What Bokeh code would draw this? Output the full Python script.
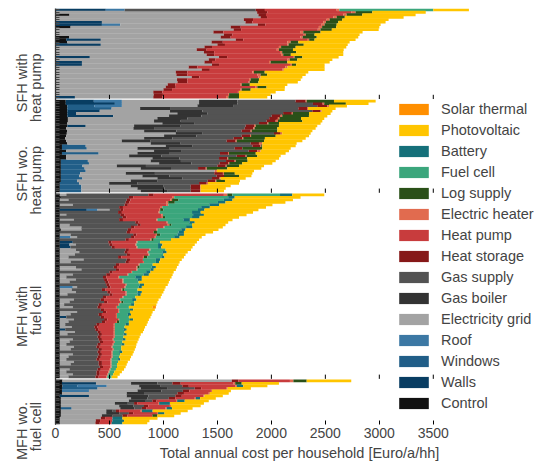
import math
from bokeh.plotting import figure
from bokeh.models import ColumnDataSource, Range1d, FixedTicker, Legend, LegendItem, LinearAxis
from bokeh.embed import file_html
from bokeh.resources import INLINE

COMPONENTS = ["Control", "Walls", "Windows", "Roof", "Electricity grid", "Gas boiler",
              "Gas supply", "Heat storage", "Heat pump", "Electric heater", "Log supply",
              "Fuel cell", "Battery", "Photovoltaic", "Solar thermal"]
COLORS = ["#111111", "#083d62", "#215e88", "#3c78a4", "#a3a3a3", "#333333",
          "#535353", "#861818", "#c83c3d", "#e16b4f", "#2a5018",
          "#3ba67c", "#15707a", "#ffc500", "#ff8f00"]
PANEL_LINE1 = ["SFH with", "SFH wo.", "MFH with", "MFH wo."]
PANEL_LINE2 = ["heat pump", "heat pump", "fuel cell", "fuel cell"]
XTICKS = [0, 500, 1000, 1500, 2000, 2500, 3000, 3500]

# ---- Panel 1: SFH with heat pump (36 households, sorted by total) ----
p1_control = [0,0,130,0,0,0,0,140,0,0,0,125,100,110,0,0,0,0,0,0,0,0,0,0,0,0,0,0,0,0,0,0,0,0,0,0]
p1_walls = [466,0,0,0,0,430,430,0,0,0,0,0,320,0,420,0,0,0,0,318,0,245,245,0,0,0,0,0,0,0,0,0,0,0,0,180]
p1_roof = [175,0,0,0,0,0,170,0,0,0,0,0,0,0,0,0,0,0,0,0,0,0,0,0,0,0,0,0,0,0,0,0,0,0,0,0]
p1_grid = [0,1868,1750,1900,1745,1330,1275,1483,1650,1463,1560,1405,1250,1336,1080,1380,1308,1375,
           1400,1197,1420,1135,1205,1234,1355,1114,1120,1262,1126,1130,1040,1021,1000,906,910,726]
p1_gas = [1214,0,0,0,0,0,0,0,0,0,0,0,0,0,0,0,0,0,0,0,0,0,0,0,0,0,0,0,0,0,0,0,0,0,0,0]
p1_storage = [85,95,70,60,85,65,70,93,70,92,80,93,70,104,70,70,92,95,70,75,60,70,65,81,75,108,102,71,96,92,70,93,80,84,85,84]
p1_heatpump = [665,777,716,615,682,655,521,724,710,711,660,647,590,598,578,620,650,610,620,610,670,528,665,815,
               670,602,648,547,571,568,600,736,635,700,603,590]
p1_heater = [25,40,31,30,28,25,27,30,25,30,20,20,20,30,12,20,20,20,20,15,20,15,10,20,15,15,30,20,15,10,15,20,10,10,10,22]
p1_log = [0,155,145,75,117,115,112,130,105,160,80,130,50,72,140,135,130,130,70,72,70,155,40,0,0,99,60,0,77,80,75,85,83,0,92,98]
p1_fuelcell = [870,0,0,0,0,0,0,0,0,0,0,0,0,0,0,0,0,0,0,0,0,0,0,0,0,0,0,0,0,0,0,0,0,0,0,0]
p1_pv = [330,495,494,545,429,438,407,400,434,389,417,385,380,475,407,469,470,436,486,336,325,392,263,343,
         378,404,358,387,387,365,348,170,315,340,293,262]

# ---- Panel 2: SFH wo. heat pump (37 households) ----
p2_control = [95,95,110,110,110,110,110,115,115,110,110,100,110,105,100,90,100,110,60,60,100,60,100,100,
              50,50,50,50,50,50,50,50,50,40,40,40,40]
p2_walls = [260,455,0,0,300,80,426,0,0,0,170,0,0,0,0,0,0,0,0,0,0,0,0,0,0,0,0,0,0,0,0,0,0,0,0,0,0]
p2_windows = [0,0,250,410,0,0,0,0,0,0,0,0,0,0,0,0,0,0,220,230,0,340,0,0,250,260,200,220,230,180,170,200,150,180,200,200,200]
p2_roof = [260,65,255,0,0,0,0,0,0,0,0,0,0,0,0,0,0,0,0,0,0,0,0,0,0,0,0,0,0,0,0,0,0,0,0,0,0]
p2_grid = [715,715,700,264,651,939,516,829,798,880,448,622,711,1009,906,731,514,772,741,469,813,359,582,798,
           582,650,318,520,1195,421,585,694,497,277,457,519,550]
p2_boiler = [355,355,330,277,300,280,300,278,247,300,432,191,300,250,300,262,268,278,250,300,250,300,300,250,
             280,300,270,280,0,270,250,230,250,260,300,250,250]
p2_gas = [540,700,780,1189,1018,700,651,758,796,595,602,840,604,660,419,567,704,648,553,601,627,465,697,367,
          418,260,662,251,0,550,438,276,463,573,256,244,213]
p2_storage = [93,90,93,80,77,80,83,80,84,78,77,80,83,62,77,80,83,77,76,71,80,74,83,77,80,80,77,71,0,80,68,70,70,71,86,86,86]
p2_heater = [9,15,16,10,10,10,15,15,21,10,16,12,10,14,10,10,10,31,6,0,30,9,8,8,10,10,8,9,20,10,0,10,10,12,6,6,6]
p2_log = [253,200,0,0,0,150,247,200,226,98,215,210,237,0,228,200,253,0,10,185,0,248,100,177,110,120,115,191,0,100,139,0,80,0,0,0,0]
p2_pv = [386,210,166,255,99,200,170,215,185,385,355,355,325,264,309,378,355,318,309,263,263,277,216,294,
         260,279,232,315,344,163,115,232,139,287,278,232,216]

# ---- Panel 3: MFH with fuel cell (74 households) ----
p3_control = [40,50,40,40,40,40,40,40,40,40,40,40,40,40,50,40,40,40,40,40,40,40,40,40,40,40,40,40,40,40,40,40,40,40,40,40,40,
              40,40,40,40,40,40,40,40,40,40,40,40,40,40,40,40,40,40,40,40,40,40,40,40,40,40,40,40,40,40,40,40,40,40,40,40,40]
p3_walls = [0,0,0,0,0,0,250,0,0,0,0,0,0,0,0,0,0,0,0,120,90,100,0,0,0,0,0,0,0,0,0,0,0,0,0,0,0,
            0,0,0,0,0,0,0,0,0,0,0,0,60,0,0,0,0,50,0,0,0,0,0,0,0,0,0,0,0,0,0,0,0,0,0,0,0]
p3_roof = [0,0,0,0,0,0,100,0,0,0,0,0,0,0,0,0,0,100,0,0,0,0,0,0,0,0,0,0,0,0,0,0,0,0,0,0,0,
           120,0,0,0,0,0,0,0,0,0,0,0,0,0,0,0,0,0,0,0,0,0,0,0,0,0,0,0,0,0,0,0,0,0,0,0,0]
p3_grid = [60,0,80,0,120,0,110,0,60,0,130,0,90,200,190,0,100,60,0,0,60,0,150,180,140,80,220,100,0,150,200,0,120,60,150,90,0,
           40,110,150,70,0,130,90,40,120,0,160,100,0,130,80,50,110,0,140,70,0,120,90,60,130,100,0,120,80,60,130,100,0,90,60,120,80]
p3_gas = [760,630,540,610,480,550,100,540,500,580,420,700,630,460,430,620,580,500,610,330,310,380,460,420,480,460,400,510,520,350,320,460,310,340,260,330,430,
          280,280,290,390,400,250,320,320,230,380,240,260,320,280,310,290,210,280,210,290,350,240,280,290,210,260,350,240,270,280,230,260,370,260,280,220,250]
p3_storage = [50,40,35,35,30,35,30,35,40,35,35,30,30,30,35,30,30,30,30,30,30,30,30,30,30,30,30,30,30,30,30,30,35,30,30,30,30,
              30,30,30,30,30,30,30,30,30,30,30,30,30,30,30,30,30,30,30,30,30,30,30,30,30,30,30,30,30,30,30,30,30,30,30,30,30]
p3_heatpump = [650,360,370,340,360,350,330,340,340,330,310,260,250,270,230,220,180,190,200,230,210,200,190,180,170,200,120,130,180,180,160,170,160,110,140,130,150,
               130,150,140,120,150,140,120,150,140,130,110,130,110,100,100,130,150,140,120,110,120,100,100,110,110,100,100,90,100,100,80,80,70,80,80,70,70]
p3_heater = [32,20,15,20,15,15,10,10,15,10,10,10,15,10,10,0,10,10,10,10,10,10,10,10,10,10,0,10,10,10,10,10,10,10,10,10,10,
             10,10,10,10,10,10,10,10,10,10,10,10,10,10,10,10,10,10,10,10,10,10,10,10,10,10,10,10,10,10,10,10,10,10,10,10,10]
p3_log = [46,0,60,60,0,0,30,0,0,20,0,0,20,0,0,30,30,0,20,0,0,0,0,0,0,30,0,0,0,20,0,0,0,0,0,0,0,
          0,20,0,0,0,0,20,0,0,0,0,0,0,0,20,0,0,0,0,0,0,0,0,0,0,0,0,0,0,0,0,0,0,0,0,0,0]
p3_fuelcell = [442,500,420,400,380,360,320,300,280,250,240,200,190,200,220,200,160,170,160,210,200,190,140,130,130,130,120,110,120,110,120,130,140,150,130,140,120,
               120,120,100,100,110,110,100,110,110,100,100,100,110,100,90,100,90,80,90,80,80,80,70,70,80,70,60,70,60,60,60,50,50,50,45,45,40]
p3_battery = [114,60,80,70,90,80,60,80,100,70,60,50,0,60,40,50,60,50,0,0,40,30,0,40,0,30,40,30,0,40,30,40,50,60,40,0,40,
              30,0,40,30,0,40,0,30,0,30,0,30,0,30,0,30,0,30,0,30,0,30,0,30,0,0,30,0,0,20,0,0,0,0,0,0,0]
p3_pv = [296,610,560,555,495,520,500,485,395,365,395,310,310,280,305,270,200,205,260,340,300,290,235,195,205,180,200,190,240,195,205,215,220,275,260,280,220,
         220,250,200,195,235,205,215,205,220,200,210,190,200,145,175,165,190,160,170,130,150,120,140,110,135,125,105,115,110,90,90,90,80,75,70,60,55]
p3_solar = [0,0,0,0,0,0,0,0,0,0,0,0,0,0,0,0,0,0,0,0,0,0,0,0,0,0,0,0,0,0,0,0,0,0,0,0,0,
            0,0,0,0,0,0,0,0,30,0,0,0,0,0,0,0,0,0,0,0,0,0,0,0,0,0,0,0,0,0,0,0,0,0,0,0,0]

# ---- Panel 4: MFH wo. fuel cell (18 households) ----
p4_control = [65,60,65,60,60,60,40,50,50,50,50,50,50,50,50,40,40,40]
p4_walls = [0,315,0,0,0,0,270,0,0,0,0,0,0,0,0,0,0,0]
p4_windows = [0,0,140,330,0,0,0,0,0,0,0,100,0,0,0,0,0,0]
p4_roof = [0,0,270,0,250,0,0,0,0,0,0,0,0,0,0,0,0,0]
p4_grid = [1568,325,300,400,450,600,350,650,630,500,540,450,420,420,380,380,333,330]
p4_boiler = [0,245,200,250,220,160,200,150,157,120,130,130,60,120,100,0,0,0]
p4_gas = [0,138,200,250,200,310,250,200,60,58,100,70,30,90,90,0,0,0]
p4_storage = [62,77,60,60,60,60,60,60,40,32,40,40,30,40,46,40,40,40]
p4_heatpump = [477,490,430,230,200,230,200,180,180,190,200,180,200,220,232,68,114,110]
p4_heater = [32,15,15,15,10,10,10,10,10,10,10,10,10,10,0,0,0,0]
p4_log = [123,60,0,0,0,0,0,0,0,0,0,0,0,0,46,0,0,0]
p4_battery = [0,0,60,0,0,0,0,40,70,100,0,50,100,60,0,92,108,100]
p4_pv = [413,345,223,215,175,175,170,145,223,315,275,190,325,150,156,325,235,230]

PANELS = [
    {"Control": p1_control, "Walls": p1_walls, "Roof": p1_roof, "Electricity grid": p1_grid,
     "Gas supply": p1_gas, "Heat storage": p1_storage, "Heat pump": p1_heatpump,
     "Electric heater": p1_heater, "Log supply": p1_log, "Fuel cell": p1_fuelcell, "Photovoltaic": p1_pv},
    {"Control": p2_control, "Walls": p2_walls, "Windows": p2_windows, "Roof": p2_roof,
     "Electricity grid": p2_grid, "Gas boiler": p2_boiler, "Gas supply": p2_gas,
     "Heat storage": p2_storage, "Electric heater": p2_heater, "Log supply": p2_log, "Photovoltaic": p2_pv},
    {"Control": p3_control, "Walls": p3_walls, "Roof": p3_roof, "Electricity grid": p3_grid,
     "Gas supply": p3_gas, "Heat storage": p3_storage, "Heat pump": p3_heatpump,
     "Electric heater": p3_heater, "Log supply": p3_log, "Fuel cell": p3_fuelcell,
     "Battery": p3_battery, "Photovoltaic": p3_pv, "Solar thermal": p3_solar},
    {"Control": p4_control, "Walls": p4_walls, "Windows": p4_windows, "Roof": p4_roof,
     "Electricity grid": p4_grid, "Gas boiler": p4_boiler, "Gas supply": p4_gas,
     "Heat storage": p4_storage, "Heat pump": p4_heatpump, "Electric heater": p4_heater,
     "Log supply": p4_log, "Battery": p4_battery, "Photovoltaic": p4_pv},
]

GAP = 0.6
data = {c: [] for c in COMPONENTS}
ys, centers, bottoms = [], [], []
off = 0.0
for k, pan in enumerate(PANELS):
    n = len(pan["Photovoltaic"])
    for name, vals in pan.items():
        if len(vals) != n:
            raise ValueError(f"panel {k} {name}: {len(vals)} != {n}")
    for c in COMPONENTS:
        data[c].extend(pan.get(c, [0] * n))
    ys.extend(off + i + 0.5 for i in range(n))
    centers.append(round(off + n / 2.0, 3))
    bottoms.append(off + n)
    off += n + GAP
total_h = off - GAP
data["y"] = ys
src = ColumnDataSource(data)

FONT = "Liberation Sans"
p = figure(width=543, height=463, x_range=Range1d(0, 4521), y_range=Range1d(total_h, 0),
           output_backend="svg", toolbar_location=None,
           min_border_left=55, min_border_right=0, min_border_top=8, min_border_bottom=0)
p.grid.visible = False
p.outline_line_color = None

renderers = p.hbar_stack(COMPONENTS, y="y", height=1.12, fill_color=COLORS, line_color=None, source=src)

# inward x ticks at the bottom of the upper panels
tx, ty0, ty1 = [], [], []
for b in bottoms[:-1]:
    for t in XTICKS[1:]:
        tx.append(t); ty0.append(b + 0.3); ty1.append(b - 1.4)
p.segment(x0=tx, x1=tx, y0=ty0, y1=ty1, line_color="black", line_width=1)

xa = p.xaxis[0]
xa.ticker = FixedTicker(ticks=XTICKS)
xa.axis_label = "Total annual cost per household [Euro/a/hh]"
xa.axis_label_text_font = FONT
xa.axis_label_text_font_size = "14.5px"
xa.axis_label_text_font_style = "normal"
xa.axis_label_standoff = 4
xa.major_label_text_font = FONT
xa.major_label_text_font_size = "14px"
xa.major_label_standoff = 3
xa.major_tick_in = 4
xa.major_tick_out = 0
xa.major_tick_line_color = "black"
xa.minor_tick_line_color = None
xa.minor_tick_in = 0
xa.minor_tick_out = 0
xa.axis_line_color = None

# inner y axis: row ticks + second line of the group labels
ya = p.yaxis[0]
ya.ticker = FixedTicker(ticks=centers, minor_ticks=ys)
ya.major_label_overrides = {c: lab for c, lab in zip(centers, PANEL_LINE2)}
ya.major_label_orientation = math.pi / 2
ya.major_label_text_font = FONT
ya.major_label_text_font_size = "14.5px"
ya.major_label_standoff = 19
ya.major_tick_line_color = None
ya.major_tick_in = 0
ya.major_tick_out = 0
ya.minor_tick_in = 4
ya.minor_tick_out = 0
ya.minor_tick_line_color = "#444444"
ya.axis_line_color = "#333333"
ya.axis_line_width = 1.3

# outer y axis: first line of the group labels
ya2 = LinearAxis(ticker=FixedTicker(ticks=centers, minor_ticks=[]))
ya2.major_label_overrides = {c: lab for c, lab in zip(centers, PANEL_LINE1)}
ya2.major_label_orientation = math.pi / 2
ya2.major_label_text_font = FONT
ya2.major_label_text_font_size = "14.5px"
ya2.major_label_standoff = -5
ya2.major_tick_line_color = None
ya2.major_tick_in = 0
ya2.major_tick_out = 0
ya2.minor_tick_line_color = None
ya2.minor_tick_in = 0
ya2.minor_tick_out = 0
ya2.axis_line_color = None
p.add_layout(ya2, "left")

items = [LegendItem(label=name, renderers=[r]) for name, r in zip(COMPONENTS, renderers)][::-1]
legend = Legend(items=items, location=(340, 13), orientation="vertical",
                glyph_width=37, glyph_height=14, label_standoff=9, spacing=5,
                padding=0, margin=0, border_line_color=None, background_fill_alpha=0,
                label_text_font=FONT, label_text_font_size="14.5px")
p.add_layout(legend)

open("out.html", "w").write(file_html(p, INLINE))
